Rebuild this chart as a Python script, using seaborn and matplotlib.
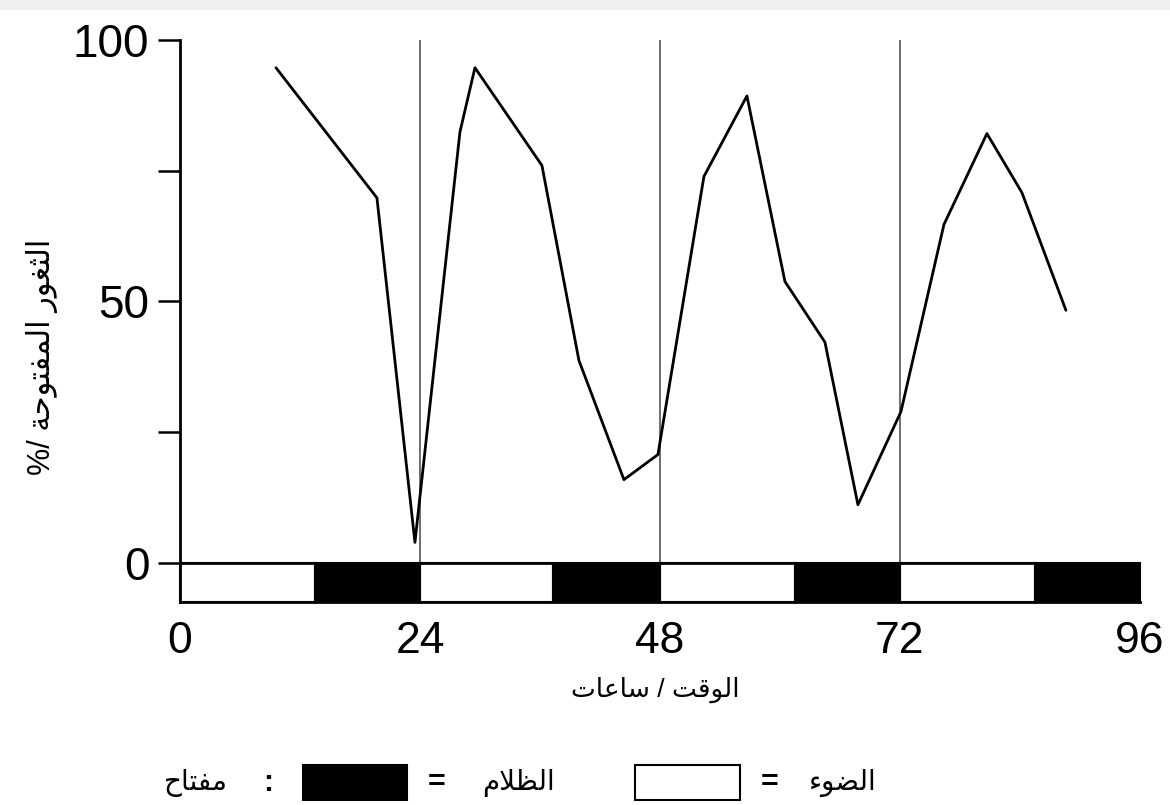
import matplotlib
matplotlib.use("Agg")
import matplotlib.pyplot as plt
from matplotlib.patches import Rectangle
import seaborn as sns
import pandas as pd

# time (h) and % of stomata open
hours = [9.6, 19.7, 23.5, 28.0, 29.5, 36.2, 39.9, 44.4, 47.8, 52.4, 56.7,
         60.5, 64.5, 67.8, 72.1, 76.4, 80.7, 84.2, 88.6]
open_pct = [94.7, 69.8, 3.9, 82.4, 94.7, 76.0, 38.7, 15.9, 20.7, 73.9, 89.3,
            53.8, 42.2, 11.1, 28.9, 64.7, 82.1, 70.8, 48.3]

# light / dark periods: start hour and length
light_start = [0, 24, 48, 72]
light_len = [13.5, 13.3, 13.5, 13.5]
dark_start = [13.5, 37.3, 61.5, 85.5]
dark_len = [10.5, 10.7, 10.5, 10.5]

day_marks = [24, 48, 72]
x_ticks = [0, 24, 48, 72, 96]
y_ticks = [0, 25, 50, 75, 100]
y_tick_labels = ["0", "", "50", "", "100"]

x_title = "الوقت / ساعات"
y_title = "الثغور المفتوحة /%"
key_title = "مفتاح"
dark_label = "الظلام"
light_label = "الضوء"

# matplotlib does no Arabic shaping, so pick the joined glyph forms by hand.
# (isolated, final, initial, medial); two-form letters only join to the right
FORMS = {
    "ا": ("\uFE8D", "\uFE8E"),
    "ة": ("\uFE93", "\uFE94"),
    "ت": ("\uFE95", "\uFE96", "\uFE97", "\uFE98"),
    "ث": ("\uFE99", "\uFE9A", "\uFE9B", "\uFE9C"),
    "ح": ("\uFEA1", "\uFEA2", "\uFEA3", "\uFEA4"),
    "ر": ("\uFEAD", "\uFEAE"),
    "س": ("\uFEB1", "\uFEB2", "\uFEB3", "\uFEB4"),
    "ض": ("\uFEBD", "\uFEBE", "\uFEBF", "\uFEC0"),
    "ظ": ("\uFEC5", "\uFEC6", "\uFEC7", "\uFEC8"),
    "ع": ("\uFEC9", "\uFECA", "\uFECB", "\uFECC"),
    "غ": ("\uFECD", "\uFECE", "\uFECF", "\uFED0"),
    "ف": ("\uFED1", "\uFED2", "\uFED3", "\uFED4"),
    "ق": ("\uFED5", "\uFED6", "\uFED7", "\uFED8"),
    "ل": ("\uFEDD", "\uFEDE", "\uFEDF", "\uFEE0"),
    "م": ("\uFEE1", "\uFEE2", "\uFEE3", "\uFEE4"),
    "و": ("\uFEED", "\uFEEE"),
    "ء": ("\uFE80",),
    "لا": ("\uFEFB", "\uFEFC"),
}


def shape(text):
    # split into letters, keeping lam-alef together as a ligature
    chars = []
    i = 0
    while i < len(text):
        if text[i:i + 2] == "لا":
            chars.append("لا")
            i += 2
        else:
            chars.append(text[i])
            i += 1
    out = []
    for i, c in enumerate(chars):
        f = FORMS.get(c)
        if f is None:
            out.append(c)
            continue
        prev = FORMS.get(chars[i - 1]) if i > 0 else None
        nxt = FORMS.get(chars[i + 1]) if i + 1 < len(chars) else None
        join_prev = prev is not None and len(prev) == 4 and len(f) > 1
        join_next = len(f) == 4 and nxt is not None and len(nxt) > 1
        if join_prev and join_next:
            out.append(f[3])
        elif join_prev:
            out.append(f[1])
        elif join_next:
            out.append(f[2])
        else:
            out.append(f[0])
    # right-to-left -> visual order
    return "".join(reversed(out))


sns.set_style("ticks", {'text.color': 'black', 'xtick.color': 'black',
                        'ytick.color': 'black', 'axes.edgecolor': 'black'})
plt.rcParams['font.family'] = ['Liberation Sans', 'DejaVu Sans']

fig = plt.figure(figsize=(11.7, 8.05), dpi=100)
ax = fig.add_axes([0.1538, 0.2522, 0.8205, 0.6981])

band = 7.5  # depth of the light/dark strip under the axis

df = pd.DataFrame({'hours': hours, 'open': open_pct})
sns.lineplot(data=df, x='hours', y='open', ax=ax, color='black', lw=2.0)

ax.vlines(day_marks, 0, 100, color='#555555', lw=1.2, zorder=1)

ax.bar(light_start, [band] * len(light_start), width=light_len, bottom=-band,
       align='edge', color='white', edgecolor='black', lw=1.5, clip_on=False)
ax.bar(dark_start, [band] * len(dark_start), width=dark_len, bottom=-band,
       align='edge', color='black', edgecolor='black', lw=1.5, clip_on=False)
ax.axhline(0, color='black', lw=2.0, zorder=3)

ax.set_xlim(0, 96)
ax.set_ylim(-band, 100)
ax.set_xticks(x_ticks)
ax.set_xticklabels([str(t) for t in x_ticks])
ax.set_yticks(y_ticks)
ax.set_yticklabels(y_tick_labels)
ax.tick_params(axis='y', direction='out', length=16, width=1.8, labelsize=33, pad=6,
               colors='black')
ax.tick_params(axis='x', length=0, labelsize=32, pad=14, colors='black')
ax.set_xlabel('')
ax.set_ylabel('')

for side in ['top', 'right']:
    ax.spines[side].set_visible(False)
ax.spines['left'].set_linewidth(2.0)
ax.spines['bottom'].set_linewidth(2.0)

fig.text(655 / 1170, 1 - 690 / 805, shape(x_title), fontsize=19,
         ha='center', va='center', color='black')
fig.text(42 / 1170, 1 - 357 / 805, shape(y_title), fontsize=22,
         ha='center', va='center', rotation=90, color='black')

# key under the chart
key_y = 1 - 783 / 805
fig.text(196 / 1170, key_y, shape(key_title), fontsize=20, ha='center', va='center')
fig.text(268 / 1170, key_y, ':', fontsize=22, ha='center', va='center', weight='bold')
fig.patches.append(Rectangle((303 / 1170, 1 - 800 / 805), 104 / 1170, 35 / 805,
                             transform=fig.transFigure, facecolor='black',
                             edgecolor='black', lw=1.5))
fig.text(437 / 1170, key_y, '=', fontsize=22, ha='center', va='center', weight='bold')
fig.text(518 / 1170, key_y, shape(dark_label), fontsize=20, ha='center', va='center')
fig.patches.append(Rectangle((635 / 1170, 1 - 800 / 805), 105 / 1170, 35 / 805,
                             transform=fig.transFigure, facecolor='white',
                             edgecolor='black', lw=1.5))
fig.text(770 / 1170, key_y, '=', fontsize=22, ha='center', va='center', weight='bold')
fig.text(843 / 1170, key_y, shape(light_label), fontsize=20, ha='center', va='center')

# faint grey strip along the top edge of the scan
fig.patches.append(Rectangle((0, 1 - 10 / 805), 1, 10 / 805,
                             transform=fig.transFigure, color='#eff1f1', lw=0))

fig.savefig('out.png', dpi=100)
